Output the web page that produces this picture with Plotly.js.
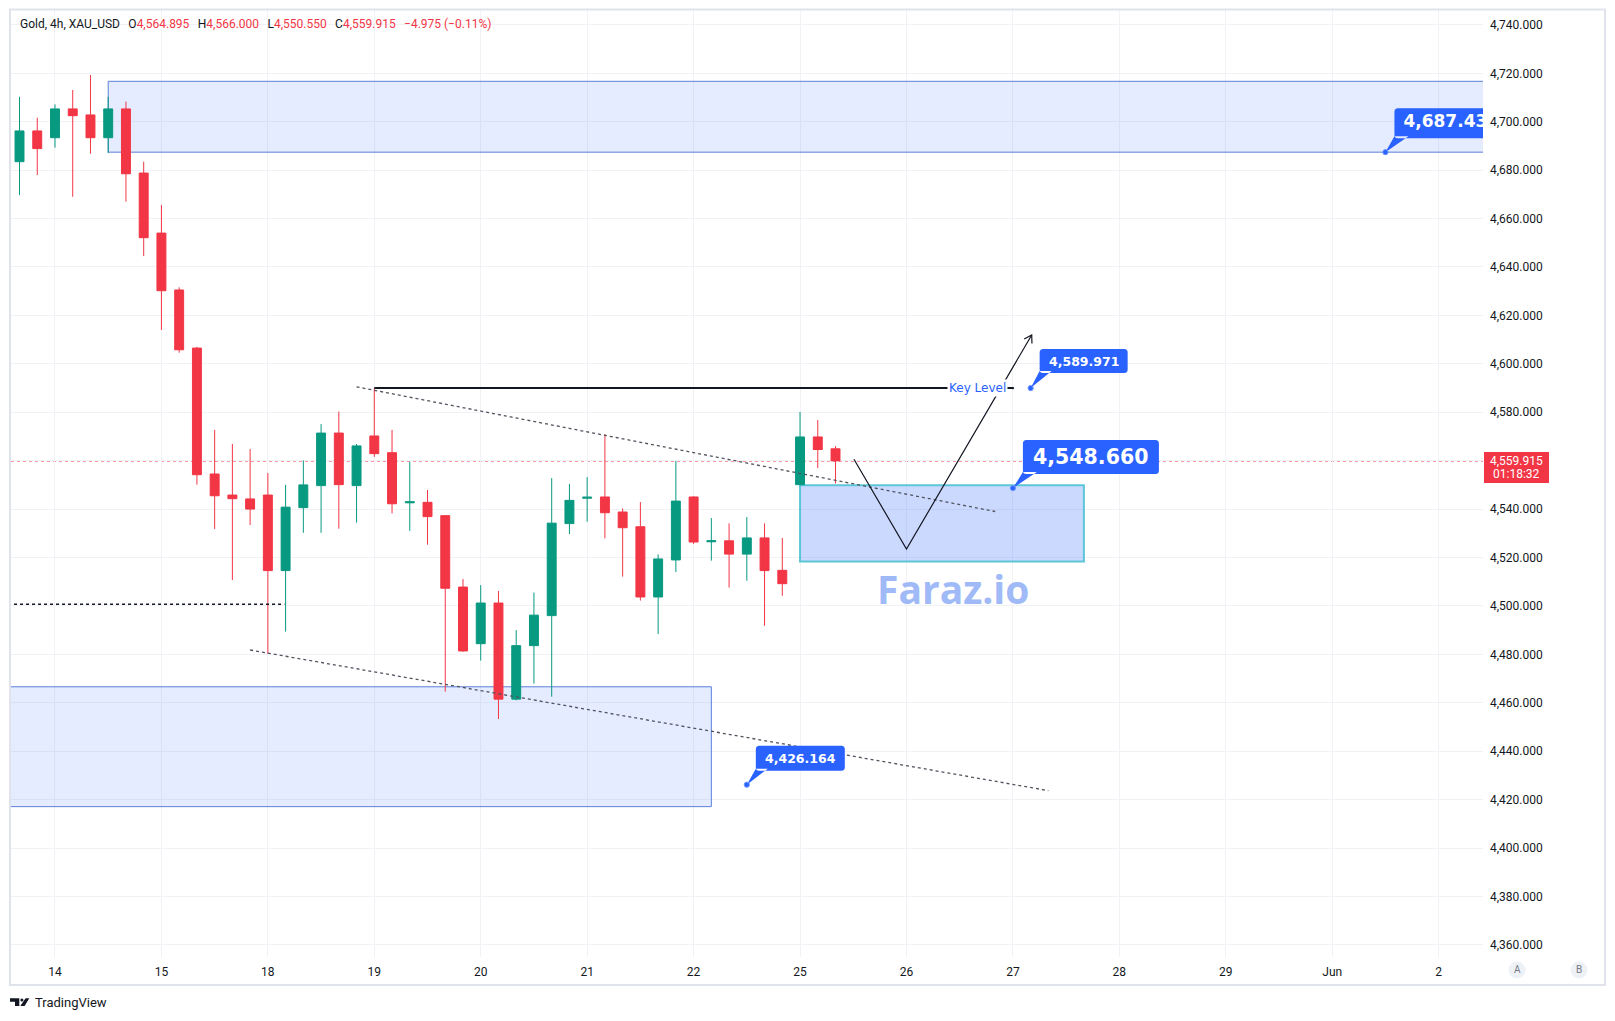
<!DOCTYPE html>
<html><head><meta charset="utf-8">
<script src="https://cdn.plot.ly/plotly-3.0.1.min.js"></script>
<style>html,body{margin:0;padding:0;background:#fff;}#chart{width:1615px;height:1021px;}</style>
</head><body><div id="chart"></div>
<script>
// ---------------- DATA ----------------
const symbolTitle = 'Gold, 4h, XAU_USD';
const headerKeys = ['O', 'H', 'L', 'C'];
const headerValues = ['4,564.895', '4,566.000', '4,550.550', '4,559.915'];
const headerChange = '\u22124.975 (\u22120.11%)';

const firstBar = -2; // bar index of first visible candle (day "14" starts at bar 0)
const opens  = [4683.5,4696.2,4693.4,4705.3,4702.8,4693.4,4705.3,4678.8,4654.0,4630.5,4606.5,
                4554.5,4545.8,4544.2,4545.8,4514.6,4540.6,4549.7,4571.4,4549.7,4570.2,4563.3,
                4542.6,4542.8,4537.3,4507.8,4484.4,4501.2,4461.5,4483.6,4496.0,4534.0,4544.5,
                4545.0,4538.8,4532.7,4503.7,4519.0,4545.0,4526.5,4526.9,4521.4,4528.1,4514.7,
                4550.1,4569.8,4564.895];
const highs  = [4710.3,4701.7,4707.2,4713.1,4719.3,4710.3,4708.3,4683.5,4665.6,4631.6,4607.0,
                4572.7,4566.9,4564.8,4554.9,4550.0,4560.1,4575.1,4580.3,4566.9,4590.0,4572.7,
                4559.6,4547.9,4537.5,4511.1,4508.6,4506.2,4490.0,4505.5,4552.8,4550.4,4553.2,
                4570.9,4540.3,4542.9,4521.3,4559.9,4545.3,4536.3,4534.1,4536.7,4534.1,4528.1,
                4580.1,4576.8,4566.0];
const lows   = [4669.7,4678.0,4689.3,4669.0,4686.8,4687.0,4667.0,4644.5,4614.0,4604.6,4550.1,
                4531.8,4510.7,4533.4,4480.2,4489.4,4530.2,4530.2,4531.9,4534.4,4561.6,4538.2,
                4531.0,4525.3,4464.6,4481.1,4477.4,4453.3,4461.0,4467.9,4462.5,4529.7,4534.8,
                4527.9,4512.1,4502.2,4488.4,4514.0,4525.6,4518.7,4507.6,4510.4,4491.8,4504.2,
                4549.8,4556.9,4550.55];
const closes = [4696.2,4688.9,4705.3,4702.5,4693.4,4705.3,4678.5,4652.1,4630.2,4605.8,4554.2,
                4545.5,4544.3,4540.0,4514.6,4540.8,4550.0,4571.4,4550.1,4566.1,4562.9,4542.2,
                4543.0,4536.9,4507.3,4481.4,4501.2,4461.5,4483.6,4496.2,4534.2,4543.6,4544.9,
                4538.5,4532.3,4503.7,4519.4,4543.3,4526.4,4526.9,4521.4,4528.1,4514.6,4509.2,
                4569.8,4564.6,4559.915];

const dayTickBars = [0, 6, 12, 18, 24, 30, 36, 42, 48, 54, 60, 66, 72, 78];
const dayTickText = ['14', '15', '18', '19', '20', '21', '22', '25', '26', '27', '28', '29', 'Jun', '2'];
const priceTicks = [4360,4380,4400,4420,4440,4460,4480,4500,4520,4540,4560,4580,4600,4620,4640,4660,4680,4700,4720,4740];

const lastPrice = 4559.915;
const lastPriceText = '4,559.915';
const countdownText = '01:18:32';

// drawings (bar index / price)
const supplyZone = [3, 4716.7, 4687.43];      // start bar, top, bottom (runs to right edge)
const demandZone = [37, 4466.6, 4417.1];      // end bar, top, bottom (runs from left edge)
const entryZone  = [42, 58, 4549.8, 4518.4];  // start bar, end bar, top, bottom
const keyLevelBars = [18, 54];
const keyLevelPrice = 4589.971;
const upperTrendBars = [17, 53],   upperTrendPrices = [4590.5, 4539.0];
const lowerTrendBars = [11, 56],   lowerTrendPrices = [4481.8, 4423.7];
const midLineBars = [-4, 12.93],   midLinePrices = [4500.7, 4500.7];
const projectionBars = [45.04, 48, 55.06];
const projectionPrices = [4560.6, 4523.5, 4611.9];
const calloutBars   = [55, 54, 39, 75];
const calloutPrices = [4589.971, 4548.66, 4426.164, 4687.43];
const calloutTexts  = ['4,589.971', '4,548.660', '4,426.164', '4,687.43'];
const watermarkText = 'Faraz.io';

// ---------------- GEOMETRY ----------------
const W = 1615, H = 1021;
const PL = 11, PR = 1483, PT = 10, PB = 957;
const xRange = [-2.48, 80.50];
const yRange = [4354.99, 4746.15];
const pxBar = (PR - PL) / (xRange[1] - xRange[0]);
const pxUnit = (PB - PT) / (yRange[1] - yRange[0]);
const pxX = px => (px - PL) / (PR - PL);
const pxY = py => (PB - py) / (PB - PT);

const bars = opens.map((_, k) => k + firstBar);
const RED = '#f23645', GREEN = '#089981', BLUE = '#2962ff', INK = '#131722';
const fmt = v => v.toLocaleString('en-US', {minimumFractionDigits: 3, maximumFractionDigits: 3});

// ---------------- TRACES ----------------
const traces = [];
traces.push({
  type: 'candlestick', x: bars, open: opens, high: highs, low: lows, close: closes,
  increasing: {line: {color: GREEN, width: 1}, fillcolor: GREEN},
  decreasing: {line: {color: RED, width: 1}, fillcolor: RED},
  whiskerwidth: 0, hoverinfo: 'skip'
});
traces.push({type: 'scatter', mode: 'lines', x: keyLevelBars, y: [keyLevelPrice, keyLevelPrice],
  line: {color: INK, width: 2}, hoverinfo: 'skip'});
traces.push({type: 'scatter', mode: 'lines', x: upperTrendBars, y: upperTrendPrices,
  line: {color: '#50535e', width: 1.3, dash: 'dot'}, hoverinfo: 'skip'});
traces.push({type: 'scatter', mode: 'lines', x: lowerTrendBars, y: lowerTrendPrices,
  line: {color: '#50535e', width: 1.3, dash: 'dot'}, hoverinfo: 'skip'});
traces.push({type: 'scatter', mode: 'lines', x: midLineBars, y: midLinePrices,
  line: {color: INK, width: 1.5, dash: 'dot'}, hoverinfo: 'skip', cliponaxis: true});
traces.push({type: 'scatter', mode: 'lines', x: projectionBars, y: projectionPrices,
  line: {color: INK, width: 1.2}, hoverinfo: 'skip'});
// callout text that runs off the right edge of the pane (clipped by the plot area)
traces.push({type: 'scatter', mode: 'text', x: [calloutBars[3] + 18 / pxBar],
  y: [calloutPrices[3] + 29 / pxUnit], text: ['<b>' + calloutTexts[3] + '</b>'], textposition: 'middle right',
  textfont: {family: 'DejaVu Sans', size: 17, color: '#ffffff'},
  cliponaxis: true, hoverinfo: 'skip'});

// ---------------- SHAPES ----------------
const shapes = [];
const zoneFill = 'rgba(41,98,255,0.12)', zoneLine = '#5b80d9';
shapes.push({type: 'rect', xref: 'x', yref: 'y', x0: supplyZone[0], x1: xRange[1] + 10,
  y0: supplyZone[2], y1: supplyZone[1], fillcolor: zoneFill, line: {color: zoneLine, width: 1}, layer: 'between'});
shapes.push({type: 'rect', xref: 'x', yref: 'y', x0: xRange[0] - 10, x1: demandZone[0],
  y0: demandZone[2], y1: demandZone[1], fillcolor: zoneFill, line: {color: zoneLine, width: 1}, layer: 'between'});
shapes.push({type: 'rect', xref: 'x', yref: 'y', x0: entryZone[0], x1: entryZone[1],
  y0: entryZone[3], y1: entryZone[2], fillcolor: 'rgba(41,98,255,0.24)', line: {color: '#5cc6d8', width: 2}, layer: 'between'});
shapes.push({type: 'line', xref: 'paper', yref: 'y', x0: 0, x1: 1, y0: lastPrice, y1: lastPrice,
  line: {color: RED, width: 1.2, dash: 'dot'}, layer: 'between'});

const calloutGeom = [ // left, right, top, bottom, wedge0, wedge1 (px, y up)
  [9, 97, 39, 15, 9, 21],
  [10, 146, 48, 14, 10, 24],
  [9, 98, 39, 14, 9, 21],
  [9, 140, 44, 14, 9, 23]
];
const calloutFont = [12.5, 20.5, 12.5, 17];
function rrPath(l, r, t, b, w0, w1) {
  const q = 3.5;
  return `M${l+q},${b} L${r-q},${b} Q${r},${b} ${r},${b+q} L${r},${t-q} Q${r},${t} ${r-q},${t} ` +
         `L${l+q},${t} Q${l},${t} ${l},${t-q} L${l},${b+q} Q${l},${b} ${l+q},${b} Z ` +
         `M0,0 L${w0},${b+2} L${w1},${b+2} Z`;
}
const annotations = [];
calloutBars.forEach((bx, k) => {
  const g = calloutGeom[k];
  const lay = k === 3 ? 'between' : 'above';
  shapes.push({type: 'path', xref: 'x', yref: 'y', xsizemode: 'pixel', ysizemode: 'pixel',
    xanchor: bx, yanchor: calloutPrices[k], path: rrPath(...g),
    fillcolor: BLUE, line: {width: 0}, layer: lay});
  shapes.push({type: 'circle', xref: 'x', yref: 'y', xsizemode: 'pixel', ysizemode: 'pixel',
    xanchor: bx, yanchor: calloutPrices[k], x0: -2.6, x1: 2.6, y0: -2.6, y1: 2.6,
    fillcolor: BLUE, line: {color: '#6f95ff', width: 1}, layer: lay});
  if (k < 3) {
    annotations.push({x: bx, y: calloutPrices[k], xref: 'x', yref: 'y',
      xshift: (g[0] + g[1]) / 2, yshift: (g[2] + g[3]) / 2, showarrow: false,
      text: '<b>' + calloutTexts[k] + '</b>', xanchor: 'center', yanchor: 'middle',
      font: {family: 'DejaVu Sans', size: calloutFont[k], color: '#ffffff'}});
  }
});

(function () {
  const n = projectionBars.length;
  const dx = (projectionBars[n-1] - projectionBars[n-2]) * pxBar;
  const dy = (projectionPrices[n-1] - projectionPrices[n-2]) * pxUnit;
  const len = Math.hypot(dx, dy);
  const bx = -dx / len, by = -dy / len;
  const arm = 8.5, ang = 32 * Math.PI / 180;
  const rot = a => [arm * (bx * Math.cos(a) - by * Math.sin(a)), arm * (bx * Math.sin(a) + by * Math.cos(a))];
  const a1 = rot(ang), a2 = rot(-ang);
  shapes.push({type: 'path', xref: 'x', yref: 'y', xsizemode: 'pixel', ysizemode: 'pixel',
    xanchor: projectionBars[n-1], yanchor: projectionPrices[n-1],
    path: `M${a1[0]},${a1[1]} L0,0 L${a2[0]},${a2[1]}`, line: {color: INK, width: 1.2}, layer: 'above'});
})();

shapes.push({type: 'circle', xref: 'x', yref: 'y', xsizemode: 'pixel', ysizemode: 'pixel',
  xanchor: keyLevelBars[1], yanchor: keyLevelPrice, x0: -1.2, x1: 1.2, y0: -1.2, y1: 1.2,
  fillcolor: INK, line: {width: 0}, layer: 'above'});

shapes.push({type: 'rect', xref: 'paper', yref: 'paper', x0: pxX(10), x1: pxX(1605), y0: pxY(985), y1: pxY(9.5),
  line: {color: '#e0e3eb', width: 2}, fillcolor: 'rgba(0,0,0,0)', layer: 'above'});
shapes.push({type: 'rect', xref: 'paper', yref: 'paper', x0: pxX(1484), x1: pxX(1549), y0: pxY(483), y1: pxY(452),
  line: {width: 0}, fillcolor: RED, layer: 'above'});
[[1517, 'A'], [1579, 'B']].forEach(([cx]) => {
  shapes.push({type: 'circle', xref: 'paper', yref: 'paper', x0: pxX(cx - 8.5), x1: pxX(cx + 8.5),
    y0: pxY(978.5), y1: pxY(961.5), fillcolor: '#eef1f6', line: {width: 0}, layer: 'above'});
});
shapes.push({type: 'path', xref: 'paper', yref: 'paper', layer: 'above', fillcolor: INK, line: {width: 0},
  path: `M${pxX(10)},${pxY(998.3)} L${pxX(19.3)},${pxY(998.3)} L${pxX(19.3)},${pxY(1006)} L${pxX(15)},${pxY(1006)} ` +
        `L${pxX(15)},${pxY(1001.7)} L${pxX(10)},${pxY(1001.7)} Z ` +
        `M${pxX(20.3)},${pxY(1006)} L${pxX(24.6)},${pxY(1006)} L${pxX(29.3)},${pxY(998.3)} L${pxX(25.6)},${pxY(998.3)} Z`});
shapes.push({type: 'circle', xref: 'paper', yref: 'paper', layer: 'above', fillcolor: INK, line: {width: 0},
  x0: pxX(20.4), x1: pxX(23.4), y0: pxY(1001.4), y1: pxY(998.4)});

// ---------------- ANNOTATIONS ----------------
const sep = '\u00a0\u00a0\u2009';
let header = symbolTitle;
headerKeys.forEach((k, i) => { header += sep + k + `<span style="color:${RED}">${headerValues[i]}</span>`; });
header += sep + `<span style="color:${RED}">${headerChange}</span>`;
annotations.push({xref: 'paper', yref: 'paper', x: pxX(18), y: pxY(24.5), xanchor: 'left', yanchor: 'middle',
  text: header, showarrow: false, font: {family: 'Roboto', size: 12, color: INK}});

annotations.push({xref: 'x', yref: 'y', x: 50, y: keyLevelPrice,
  xshift: 5, xanchor: 'left', yanchor: 'middle', text: 'Key Level', showarrow: false,
  bgcolor: '#ffffff', borderpad: 1,
  font: {family: 'DejaVu Sans', size: 12, color: BLUE}});

annotations.push({xref: 'x', yref: 'y', x: 50.62, y: 4507.4, xanchor: 'center', yanchor: 'middle',
  text: '<b>' + watermarkText + '</b>', showarrow: false,
  font: {family: 'Open Sans', size: 39, color: '#a0baf7'}});

annotations.push({xref: 'paper', yref: 'paper', x: pxX(1516.5), y: pxY(460.5), xanchor: 'center', yanchor: 'middle',
  text: lastPriceText, showarrow: false, font: {family: 'Roboto', size: 12, color: '#ffffff'}});
annotations.push({xref: 'paper', yref: 'paper', x: pxX(1516.5), y: pxY(474.5), xanchor: 'center', yanchor: 'middle',
  text: countdownText, showarrow: false, font: {family: 'Roboto', size: 12, color: '#ffffff'}});

[[1517, 'A'], [1579, 'B']].forEach(([cx, t]) => {
  annotations.push({xref: 'paper', yref: 'paper', x: pxX(cx), y: pxY(970), xanchor: 'center', yanchor: 'middle',
    text: t, showarrow: false, font: {family: 'Roboto', size: 10, color: '#787b86'}});
});
annotations.push({xref: 'paper', yref: 'paper', x: pxX(33), y: pxY(1002), xanchor: 'left', yanchor: 'middle',
  text: 'TradingView', showarrow: false, font: {family: 'Roboto', size: 13, color: INK}});

// ---------------- LAYOUT ----------------
const layout = {
  width: W, height: H,
  margin: {l: PL, r: W - PR, t: PT, b: H - PB, pad: 0},
  paper_bgcolor: '#ffffff', plot_bgcolor: '#ffffff',
  showlegend: false, dragmode: false, boxgap: 0.28,
  font: {family: 'Roboto', size: 12, color: INK},
  xaxis: {range: xRange, tickvals: dayTickBars, ticktext: dayTickText, showgrid: true, gridcolor: '#f0f2f6',
    zeroline: false, showline: false, ticks: '', ticklabelstandoff: 6, rangeslider: {visible: false},
    fixedrange: true, tickfont: {family: 'Roboto', size: 12, color: INK}},
  yaxis: {range: yRange, side: 'right', tickvals: priceTicks,
    ticktext: priceTicks.map(v => (Math.abs(v - lastPrice) < 12 ? '' : fmt(v))),
    showgrid: true, gridcolor: '#f0f2f6', zeroline: false, showline: false, ticks: '', ticklabelstandoff: 6,
    fixedrange: true, tickfont: {family: 'Roboto', size: 12, color: INK}},
  shapes: shapes, annotations: annotations
};

Plotly.newPlot('chart', traces, layout, {staticPlot: true, displayModeBar: false});
</script></body></html>
